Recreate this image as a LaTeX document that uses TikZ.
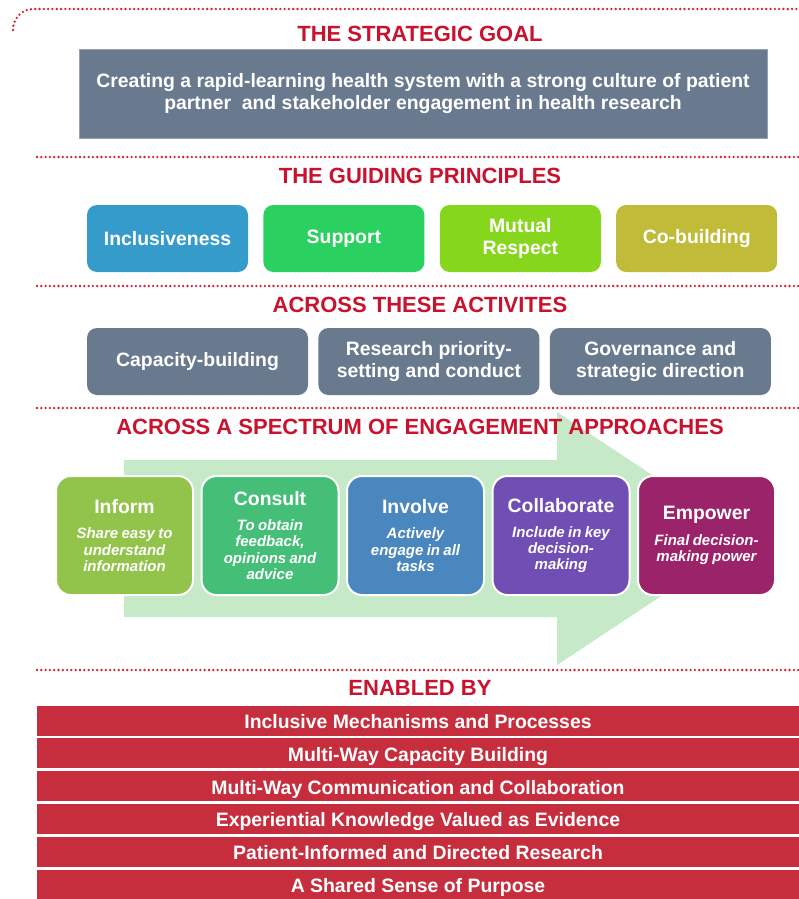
\documentclass[tikz,border=0pt]{standalone}
\usepackage{fontspec}
\setmainfont{Liberation Sans}
\usetikzlibrary{positioning}

\definecolor{titelrot}{RGB}{200,18,46}
\definecolor{punktrot}{RGB}{212,32,52}
\definecolor{balkenrot}{RGB}{199,46,61}
\definecolor{schiefer}{RGB}{105,122,143}
\definecolor{pfeilgruen}{RGB}{198,233,200}
\definecolor{cInclusive}{RGB}{52,155,203}
\definecolor{cSupport}{RGB}{42,208,96}
\definecolor{cRespect}{RGB}{135,214,30}
\definecolor{cCobuild}{RGB}{192,188,58}
\definecolor{cInform}{RGB}{146,195,74}
\definecolor{cConsult}{RGB}{69,190,120}
\definecolor{cInvolve}{RGB}{74,135,190}
\definecolor{cCollab}{RGB}{113,78,180}
\definecolor{cEmpower}{RGB}{155,35,105}

\newcommand{\stufentitel}[1]{{\fontsize{19.4}{22}\selectfont\bfseries #1\par}\vspace{9pt}}
\newcommand{\stufentext}[1]{{\fontsize{15}{16.2}\selectfont\bfseries\itshape #1\par}}

\tikzstyle{titel} = [text=titelrot, font=\fontsize{22}{26}\selectfont\bfseries]
\tikzstyle{trenner} = [draw=punktrot, line width=2.6pt, line cap=round, dash pattern=on 0pt off 4.3pt]
\tikzstyle{prinzip} = [rounded corners=10pt, minimum width=161, minimum height=67, inner sep=2pt, text=white, align=center, font=\fontsize{19.4}{22}\selectfont\bfseries]
\tikzstyle{aktivitaet} = [prinzip, fill=schiefer, minimum width=221]
\tikzstyle{stufe} = [rounded corners=15pt, draw=white, line width=2pt, minimum width=137, minimum height=119, text width=132, inner sep=0pt, align=center, text=white]
\tikzstyle{balken} = [fill=balkenrot, minimum width=762, minimum height=30, inner sep=0pt, text height=16, text depth=0, text=white, font=\fontsize{19.4}{22}\selectfont\bfseries]

\begin{document}
\begin{tikzpicture}[x=1pt, y=-1pt]
	\useasboundingbox (0,0) rectangle (799,899);
	\fill[white] (0,0) rectangle (799,899);

	% Trennlinien
	\draw[trenner] (13,30) to[out=90,in=180] (33,9) -- (797,9);
	\draw[trenner] (37,157) -- (799,157);
	\draw[trenner] (37,286) -- (799,286);
	\draw[trenner] (37,408) -- (799,408);
	\draw[trenner] (37,670) -- (799,670);

	% Ziel
	\node[titel] (zielT) at (420,33.5) {THE STRATEGIC GOAL};
	\node[fill=schiefer, draw=schiefer!70!white, minimum width=688, minimum height=89, text=white, align=center,
		font=\fontsize{19.4}{22}\selectfont\bfseries] (ziel) at (423,93.5)
		{Creating a rapid-learning health system with a strong culture of patient\\partner~ and stakeholder engagement in health research};

	% Prinzipien
	\node[titel] (prinzipT) at (420,176) {THE GUIDING PRINCIPLES};
	\node[prinzip, fill=cInclusive] (inclusive) at (167.5,238.5) {Inclusiveness};
	\node[prinzip, fill=cSupport, right=15pt of inclusive] (support) {Support};
	\node[prinzip, fill=cRespect, right=15pt of support] (respect) {Mutual\\Respect};
	\node[prinzip, fill=cCobuild, right=15pt of respect] (cobuild) {Co-building};

	% Aktivitaeten
	\node[titel] (aktivT) at (420,304.5) {ACROSS THESE ACTIVITES};
	\node[aktivitaet] (capacity) at (197.5,361.5) {Capacity-building};
	\node[aktivitaet, right=10pt of capacity] (research) {Research priority-\\setting and conduct};
	\node[aktivitaet, right=10pt of research] (governance) {Governance and\\strategic direction};

	% Spektrum
	\fill[pfeilgruen] (124,460) -- (557,460) -- (557,412) -- (748,538.5) -- (557,665) -- (557,617) -- (124,617) -- cycle;
	\node[titel] (spektrumT) at (420,427) {ACROSS A SPECTRUM OF ENGAGEMENT APPROACHES};
	\node[stufe, fill=cInform] (inform) at (124.5,535.5)
		{\stufentitel{Inform}\stufentext{Share easy to\\understand\\information}};
	\node[stufe, fill=cConsult, right=6.5pt of inform] (consult)
		{\stufentitel{Consult}\stufentext{To obtain\\feedback,\\opinions and\\advice}};
	\node[stufe, fill=cInvolve, right=6.5pt of consult] (involve)
		{\stufentitel{Involve}\stufentext{Actively\\engage in all\\tasks}};
	\node[stufe, fill=cCollab, right=6.5pt of involve] (collab)
		{\stufentitel{Collaborate}\stufentext{Include in key\\decision-\\making}};
	\node[stufe, fill=cEmpower, right=6.5pt of collab] (empower)
		{\stufentitel{Empower}\stufentext{Final decision-\\making power}};

	% Voraussetzungen
	\node[titel] (enabledT) at (420,688) {ENABLED BY};
	\node[balken] (mechanisms) at (418,720.5) {Inclusive Mechanisms and Processes};
	\node[balken, below=2.4pt of mechanisms] (capbuild) {Multi-Way Capacity Building};
	\node[balken, below=2.4pt of capbuild] (communication) {Multi-Way Communication and Collaboration};
	\node[balken, below=2.4pt of communication] (knowledge) {Experiential Knowledge Valued as Evidence};
	\node[balken, below=2.4pt of knowledge] (directed) {Patient-Informed and Directed Research};
	\node[balken, below=2.4pt of directed] (purpose) {A Shared Sense of Purpose};
\end{tikzpicture}
\end{document}
